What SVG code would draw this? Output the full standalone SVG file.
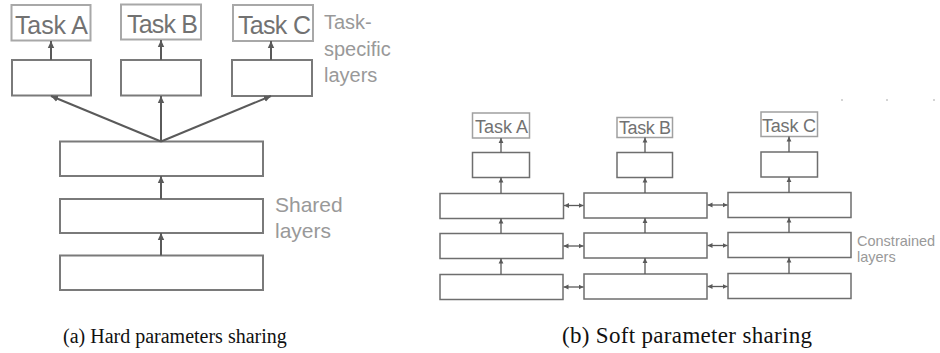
<svg xmlns="http://www.w3.org/2000/svg" width="940" height="353" viewBox="0 0 940 353">
<style>
.bg{fill:#fff}
.tbL{fill:#fff;stroke:#a8a8a8;stroke-width:2}
.bxL{fill:#fff;stroke:#7a7a7a;stroke-width:2}
.tbR{fill:#fff;stroke:#a0a0a0;stroke-width:1.5}
.bxR{fill:#fff;stroke:#6e6e6e;stroke-width:1.5}
.tl{font-family:"Liberation Sans",Arial,sans-serif;fill:#727272}
.lab{font-family:"Liberation Sans",Arial,sans-serif;fill:#999}
.cap{font-family:"Liberation Serif","Times New Roman",serif;fill:#111}
.aL{stroke:#5a5a5a;stroke-width:2;fill:none;marker-end:url(#mL)}
.aR{stroke:#5a5a5a;stroke-width:1.3;fill:none;marker-end:url(#mR)}
.dR{stroke:#5a5a5a;stroke-width:1.3;fill:none;marker-end:url(#mR);marker-start:url(#mRs)}
.tick{stroke:#aaa;stroke-width:1}
</style>
<defs>
<marker id="mL" markerUnits="userSpaceOnUse" markerWidth="8" markerHeight="8" refX="7" refY="4" orient="auto"><path d="M0,0.8 L7,4 L0,7.2 Z" fill="#5a5a5a"/></marker>
<marker id="mR" markerUnits="userSpaceOnUse" markerWidth="6" markerHeight="6" refX="5" refY="3" orient="auto"><path d="M0,0.6 L5,3 L0,5.4 Z" fill="#5a5a5a"/></marker>
<marker id="mRs" markerUnits="userSpaceOnUse" markerWidth="6" markerHeight="6" refX="0" refY="3" orient="auto"><path d="M5,0.6 L0,3 L5,5.4 Z" fill="#5a5a5a"/></marker>
</defs>
<rect class="bg" x="0" y="0" width="940" height="353"/>

<!-- (a) Hard parameter sharing -->
<g id="a-taskA"><rect class="tbL" x="11.5" y="5" width="79" height="35.5"/><text class="tl" x="15" y="33.5" font-size="25" textLength="73">Task A</text></g>
<g id="a-taskB"><rect class="tbL" x="121" y="4.5" width="80" height="35"/><text class="tl" x="127" y="33" font-size="25" textLength="71">Task B</text></g>
<g id="a-taskC"><rect class="tbL" x="233" y="5" width="80" height="36"/><text class="tl" x="238" y="34" font-size="25" textLength="73">Task C</text></g>
<g id="a-specA"><rect class="bxL" x="12" y="60" width="79" height="35.5"/></g>
<g id="a-specB"><rect class="bxL" x="121" y="60" width="80" height="35.5"/></g>
<g id="a-specC"><rect class="bxL" x="232" y="60" width="80" height="36"/></g>
<g id="a-shared1"><rect class="bxL" x="60" y="141.5" width="203" height="34.5"/></g>
<g id="a-shared2"><rect class="bxL" x="60" y="199" width="203" height="34"/></g>
<g id="a-shared3"><rect class="bxL" x="60" y="255.5" width="203" height="34.5"/></g>
<g id="a-labels">
<text class="lab" x="324" y="29" font-size="20">Task-</text>
<text class="lab" x="324" y="56" font-size="20">specific</text>
<text class="lab" x="324" y="82" font-size="20">layers</text>
<text class="lab" x="275" y="212" font-size="21">Shared</text>
<text class="lab" x="275" y="238" font-size="21">layers</text>
</g>

<!-- (b) Soft parameter sharing -->
<g id="b-taskA"><rect class="tbR" x="472.5" y="113" width="57" height="25"/><text class="tl" x="475" y="132.5" font-size="18" textLength="53">Task A</text></g>
<g id="b-taskB"><rect class="tbR" x="617" y="117.5" width="55.5" height="20"/><text class="tl" x="619" y="133.5" font-size="18" textLength="52">Task B</text></g>
<g id="b-taskC"><rect class="tbR" x="761" y="112" width="56.5" height="24.5"/><text class="tl" x="762" y="132" font-size="18" textLength="54">Task C</text></g>
<g id="b-specA"><rect class="bxR" x="472.5" y="152.5" width="57" height="25"/></g>
<g id="b-specB"><rect class="bxR" x="617" y="152.5" width="55.5" height="25"/></g>
<g id="b-specC"><rect class="bxR" x="761" y="152" width="56.5" height="25"/></g>
<g id="b-c1r1"><rect class="bxR" x="440" y="193.5" width="123.5" height="25"/></g>
<g id="b-c1r2"><rect class="bxR" x="440" y="233.5" width="123" height="25"/></g>
<g id="b-c1r3"><rect class="bxR" x="440" y="274.5" width="123" height="25"/></g>
<g id="b-c2r1"><rect class="bxR" x="584" y="193" width="123" height="25"/></g>
<g id="b-c2r2"><rect class="bxR" x="584" y="233" width="123" height="25"/></g>
<g id="b-c2r3"><rect class="bxR" x="584" y="274" width="123" height="25"/></g>
<g id="b-c3r1"><rect class="bxR" x="728" y="192.5" width="123" height="25"/></g>
<g id="b-c3r2"><rect class="bxR" x="728" y="232.5" width="123" height="25"/></g>
<g id="b-c3r3"><rect class="bxR" x="728" y="273.5" width="123" height="25"/></g>
<g id="b-labels">
<text class="lab" x="857" y="246" font-size="14.5">Constrained</text>
<text class="lab" x="857" y="261.5" font-size="14.5">layers</text>
</g>
<g id="b-ticks">
<line class="tick" x1="841" y1="100" x2="843" y2="100"/>
<line class="tick" x1="886" y1="100" x2="888" y2="100"/>
<line class="tick" x1="933" y1="100" x2="935" y2="100"/>
</g>

<g id="connectors">
<line class="aL" x1="51" y1="60" x2="51" y2="41"/>
<line class="aL" x1="161" y1="60" x2="161" y2="40"/>
<line class="aL" x1="271" y1="60" x2="271" y2="41"/>
<line class="aL" x1="161" y1="141.5" x2="51" y2="96"/>
<line class="aL" x1="161" y1="141.5" x2="161" y2="96"/>
<line class="aL" x1="161" y1="141.5" x2="271" y2="96"/>
<line class="aL" x1="161" y1="199" x2="161" y2="176"/>
<line class="aL" x1="161" y1="255.5" x2="161" y2="233"/>

<line class="aR" x1="501" y1="152.5" x2="501" y2="138"/>
<line class="aR" x1="645" y1="152.5" x2="645" y2="137.5"/>
<line class="aR" x1="789" y1="152" x2="789" y2="136.5"/>
<line class="aR" x1="501" y1="193.5" x2="501" y2="177.5"/>
<line class="aR" x1="645" y1="193" x2="645" y2="177.5"/>
<line class="aR" x1="789" y1="192.5" x2="789" y2="177"/>
<line class="aR" x1="501" y1="233.5" x2="501" y2="218.5"/>
<line class="aR" x1="645" y1="233" x2="645" y2="218"/>
<line class="aR" x1="789" y1="232.5" x2="789" y2="217.5"/>
<line class="aR" x1="501" y1="274.5" x2="501" y2="258.5"/>
<line class="aR" x1="645" y1="274" x2="645" y2="258"/>
<line class="aR" x1="789" y1="273.5" x2="789" y2="257.5"/>

<line class="dR" x1="564" y1="205.5" x2="583.5" y2="205.5"/>
<line class="dR" x1="563.5" y1="246" x2="583.5" y2="246"/>
<line class="dR" x1="563.5" y1="287" x2="583.5" y2="287"/>
<line class="dR" x1="707.5" y1="205" x2="727.5" y2="205"/>
<line class="dR" x1="707.5" y1="245.5" x2="727.5" y2="245.5"/>
<line class="dR" x1="707.5" y1="286.5" x2="727.5" y2="286.5"/>
</g>

<g id="captions">
<text class="cap" x="63" y="343" font-size="20">(a)  Hard parameters sharing</text>
<text class="cap" x="562" y="343" font-size="23" textLength="250">(b)  Soft parameter sharing</text>
</g>
</svg>
